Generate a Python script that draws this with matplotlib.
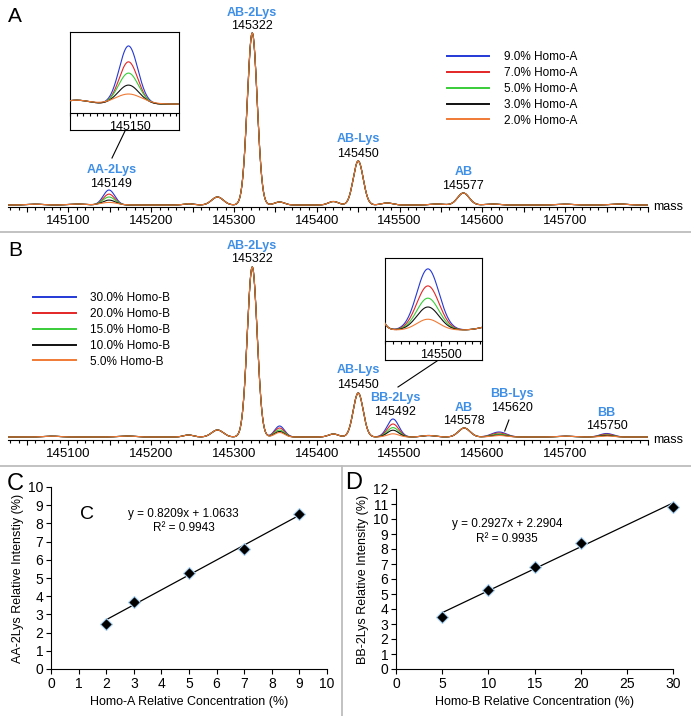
import numpy as np
import matplotlib.pyplot as plt
from matplotlib.lines import Line2D
from matplotlib.ticker import MultipleLocator, FixedLocator, FuncFormatter

plt.rcParams['font.family'] = ['Liberation Sans', 'DejaVu Sans']

W, H = 691, 716

# ---- spectra data (peak centre, height, width) ----
colors = ['#2438d6', '#e32626', '#38cc38', '#111111', '#f07a35']
a_names = ['9.0% Homo-A', '7.0% Homo-A', '5.0% Homo-A', '3.0% Homo-A', '2.0% Homo-A']
b_names = ['30.0% Homo-B', '20.0% Homo-B', '15.0% Homo-B', '10.0% Homo-B', '5.0% Homo-B']

# panel A: peaks common to all samples
a_mass = [145060, 145110, 145245, 145280, 145322, 145355, 145420, 145450, 145485, 145545, 145577, 145612, 145700, 145765]
a_height = [0.8, 1.0, 1.2, 8, 172, 3, 3.5, 44, 2, 1, 12, 1, 0.8, 1]
a_width = [10, 10, 6, 7, 6, 6, 6, 6, 7, 8, 7, 8, 10, 10]
# panel A: AA-2Lys peak per sample
a_aa_mass = 145149
a_aa_height = [15, 10.9, 8, 4.9, 2.6]
a_aa_width = [7, 7, 7.5, 8, 10]

# panel B: common peaks
b_mass = [145080, 145170, 145245, 145280, 145322, 145420, 145450, 145535, 145578, 145700]
b_height = [0.8, 1.0, 2, 7, 170, 3, 44, 1.5, 9, 0.8]
b_width = [10, 10, 6, 7, 6, 6, 6, 8, 7, 10]
# panel B: peaks that vary with Homo-B
b_var_mass = [145355, 145492, 145620, 145750]
b_var_height = [[11, 18, 5, 3.5],
                [9, 13, 4, 2.8],
                [7, 9.4, 3, 2],
                [5.5, 6.8, 2, 1.5],
                [4.5, 3.2, 1.5, 1]]
b_var_width = [6, 7, 9, 8]

# ---- calibration data ----
c_x = [2, 3, 5, 7, 9]
c_y = [2.5, 3.7, 5.25, 6.6, 8.5]
c_slope, c_icpt = 0.8209, 1.0633
d_x = [5, 10, 15, 20, 30]
d_y = [3.5, 5.3, 6.8, 8.4, 10.8]
d_slope, d_icpt = 0.2927, 2.2904


def rect(x0, y0, x1, y1):
    return [x0 / W, 1 - y1 / H, (x1 - x0) / W, (y1 - y0) / H]


def trace(m, centers, heights, widths):
    y = np.zeros_like(m)
    for c, h, w in zip(centers, heights, widths):
        y += h * np.exp(-0.5 * ((m - c) / w) ** 2)
    return y


mass = np.linspace(145027, 145800, 4000)

fig = plt.figure(figsize=(W / 100, H / 100), dpi=100)


def style_spec(ax):
    for s in ['left', 'right', 'top']:
        ax.spines[s].set_visible(False)
    ax.spines['bottom'].set_linewidth(0.8)
    ax.set_yticks([])
    ax.set_facecolor('none')


def style_mass_axis(ax, major, minor, labelled, size=9.5):
    ax.xaxis.set_major_locator(major)
    ax.xaxis.set_minor_locator(minor)
    ax.xaxis.set_major_formatter(FuncFormatter(
        lambda v, p: f'{v:.0f}' if round(v) in labelled else ''))
    ax.tick_params(axis='x', which='major', length=3.6, width=0.8, pad=2, labelsize=size)
    ax.tick_params(axis='x', which='minor', length=2, width=0.8)


def spec_labels(ax, items):
    for name, num, x, yn, yv in items:
        ax.text(x, yn, name, color='#3f8fe6', fontsize=9, fontweight='bold',
                ha='center', va='center', clip_on=False)
        ax.text(x, yv, num, color='black', fontsize=9,
                ha='center', va='center', clip_on=False)


def add_legend(lines, names, x, y):
    leg = fig.legend(lines, names, loc='upper left', bbox_to_anchor=(x / W, 1 - y / H),
                     frameon=False, fontsize=8.5, handlelength=3.6, handletextpad=1.2,
                     labelspacing=0.33, borderpad=0, borderaxespad=0)
    for h in leg.get_lines():
        h.set_linewidth(1.4)


# ---------------- panel A ----------------
axA = fig.add_axes(rect(8, 25, 648, 207))
style_spec(axA)
linesA = []
for i in range(5):
    y = trace(mass, a_mass + [a_aa_mass], a_height + [a_aa_height[i]], a_width + [a_aa_width[i]])
    ln, = axA.plot(mass, y, color=colors[i], lw=0.8)
    linesA.append(ln)
axA.set_xlim(145027, 145800)
axA.set_ylim(-2, 180)
labelled = [145100, 145200, 145300, 145400, 145500, 145600, 145700]
style_mass_axis(axA, MultipleLocator(50), MultipleLocator(10), labelled)
spec_labels(axA, [('AB-2Lys', '145322', 145322, 192, 179),
                  ('AA-2Lys', '145149', 145152, 35, 21),
                  ('AB-Lys', '145450', 145450, 66, 51),
                  ('AB', '145577', 145577, 33, 19)])
add_legend(linesA, a_names, 447, 51)
fig.text(653 / W, 1 - 207 / H, 'mass', fontsize=9, va='center')

# inset A
fr = fig.add_axes(rect(70, 32, 179, 130))
fr.set_xticks([]); fr.set_yticks([])
for s in fr.spines.values():
    s.set_linewidth(0.8)
insA = fig.add_axes(rect(70, 32, 179, 113))
style_spec(insA)
for i in range(5):
    y = trace(mass, a_mass + [a_aa_mass], a_height + [a_aa_height[i]], a_width + [a_aa_width[i]])
    insA.plot(mass, y, color=colors[i], lw=0.8)
insA.set_xlim(145105, 145187)
insA.set_ylim(-2.3, 18.6)
style_mass_axis(insA, FixedLocator([145150]), MultipleLocator(5), [145150], size=9)
fig.add_artist(Line2D([125 / W, 112 / W], [1 - 131 / H, 1 - 158 / H], color='black', lw=0.8))

# ---------------- panel B ----------------
axB = fig.add_axes(rect(8, 258, 648, 440))
style_spec(axB)
linesB = []
for i in range(5):
    y = trace(mass, b_mass + b_var_mass, b_height + b_var_height[i], b_width + b_var_width)
    ln, = axB.plot(mass, y, color=colors[i], lw=0.8)
    linesB.append(ln)
axB.set_xlim(145027, 145800)
axB.set_ylim(-3, 179)
style_mass_axis(axB, MultipleLocator(50), MultipleLocator(10), labelled)
spec_labels(axB, [('AB-2Lys', '145322', 145322, 191, 178),
                  ('AB-Lys', '145450', 145450, 67, 52),
                  ('BB-2Lys', '145492', 145495, 39, 25),
                  ('AB', '145578', 145578, 29, 16),
                  ('BB-Lys', '145620', 145636, 43, 29),
                  ('BB', '145750', 145750, 24, 11)])
axB.plot([145632, 145627], [17, 6], color='black', lw=0.8, clip_on=False)
add_legend(linesB, b_names, 33, 292)
fig.text(653 / W, 1 - 440 / H, 'mass', fontsize=9, va='center')

# inset B
fr = fig.add_axes(rect(385, 258, 482, 360))
fr.set_xticks([]); fr.set_yticks([])
for s in fr.spines.values():
    s.set_linewidth(0.8)
insB = fig.add_axes(rect(385, 258, 482, 341))
style_spec(insB)
for i in range(5):
    y = trace(mass, b_mass + b_var_mass, b_height + b_var_height[i], b_width + b_var_width)
    insB.plot(mass, y, color=colors[i], lw=0.8)
insB.set_xlim(145465, 145526)
insB.set_ylim(-3.2, 21.2)
style_mass_axis(insB, FixedLocator([145500]), MultipleLocator(5), [145500], size=9)
fig.add_artist(Line2D([437 / W, 398 / W], [1 - 361 / H, 1 - 387 / H], color='black', lw=0.8))

# separators
sep = '#bdbdbd'
fig.add_artist(Line2D([0, 1], [1 - 232 / H, 1 - 232 / H], color=sep, lw=1.3))
fig.add_artist(Line2D([0, 1], [1 - 466 / H, 1 - 466 / H], color=sep, lw=1.3))
fig.add_artist(Line2D([342 / W, 342 / W], [0, 1 - 466 / H], color=sep, lw=1.3))

# panel letters
fig.text(8 / W, 1 - 17 / H, 'A', fontsize=15, va='center')
fig.text(8 / W, 1 - 250 / H, 'B', fontsize=15, va='center')
fig.text(7 / W, 1 - 484 / H, 'C', fontsize=17, va='center')
fig.text(345 / W, 1 - 483 / H, 'D', fontsize=17, va='center')


# ---------------- panels C and D ----------------
def calib(ax, xs, ys, slope, icpt, xmax, ymax, xstep, xlabel, ylabel):
    for s in ['right', 'top']:
        ax.spines[s].set_visible(False)
    for s in ['left', 'bottom']:
        ax.spines[s].set_linewidth(0.8)
    xf = np.array([xs[0], xs[-1]])
    ax.plot(xf, slope * xf + icpt, color='black', lw=0.9)
    ax.plot(xs, ys, linestyle='none', marker='D', markersize=6.5, clip_on=False,
            markerfacecolor='black', markeredgecolor='#a9d2f2', markeredgewidth=0.8)
    ax.set_xlim(0, xmax)
    ax.set_ylim(0, ymax)
    ax.xaxis.set_major_locator(MultipleLocator(xstep))
    ax.yaxis.set_major_locator(MultipleLocator(1))
    ax.tick_params(length=3.5, width=0.8, labelsize=10, pad=2)
    ax.set_xlabel(xlabel, fontsize=9, labelpad=4)
    ax.set_ylabel(ylabel, fontsize=9, labelpad=3)


axC = fig.add_axes(rect(51, 487, 327, 669))
calib(axC, c_x, c_y, c_slope, c_icpt, 10, 10, 1,
      'Homo-A Relative Concentration (%)', 'AA-2Lys Relative Intenstiy (%)')
axC.text(1.3, 8.5, 'C', fontsize=14, va='center', ha='center')
axC.text(4.8, 8.5, f'y = {c_slope}x + {c_icpt}', fontsize=8.5, ha='center', va='center')
axC.text(4.8, 7.75, 'R² = 0.9943', fontsize=8.5, ha='center', va='center')

axD = fig.add_axes(rect(396, 489, 673, 669))
calib(axD, d_x, d_y, d_slope, d_icpt, 30, 12, 5,
      'Homo-B Relative Concentration (%)', 'BB-2Lys Relative Intensity (%)')
axD.text(12, 9.7, f'y = {d_slope}x + {d_icpt}', fontsize=8.5, ha='center', va='center')
axD.text(12, 8.7, 'R² = 0.9935', fontsize=8.5, ha='center', va='center')

fig.savefig('out.png', dpi=100)
